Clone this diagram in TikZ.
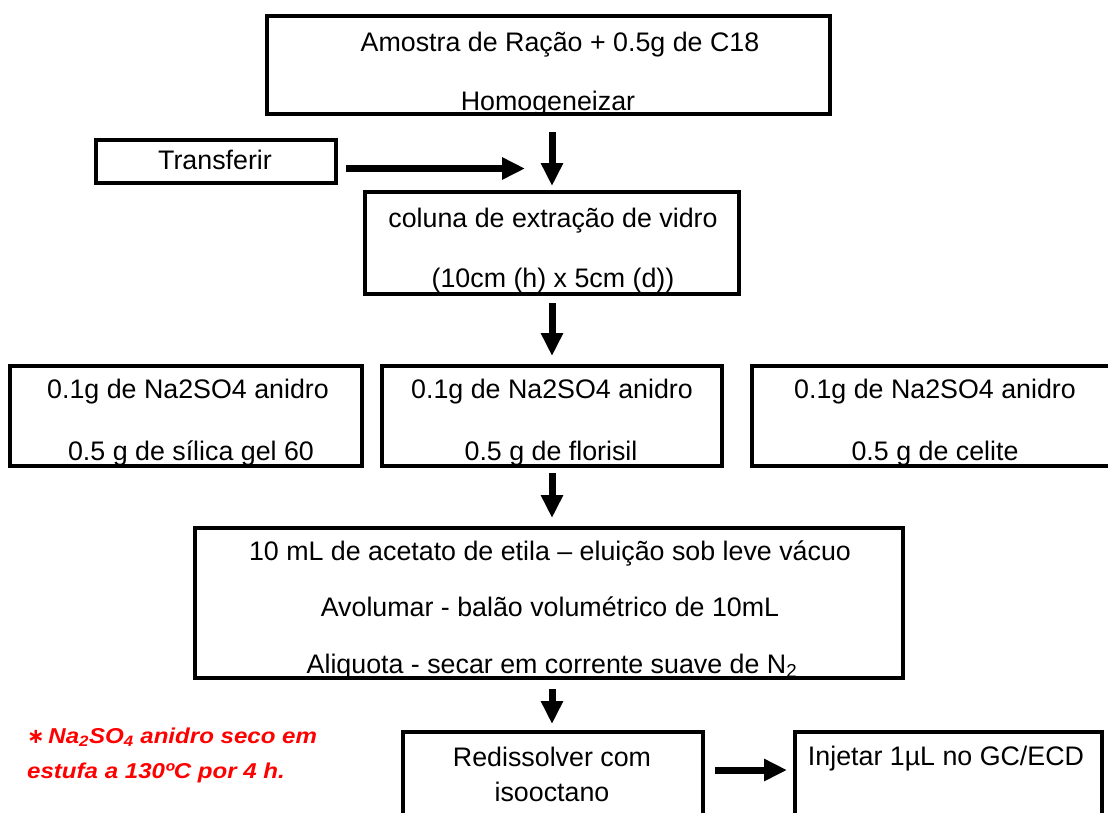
\documentclass[tikz,border=0pt]{standalone}
\usepackage{fontspec}
\setmainfont{Liberation Sans}
\newfontfamily\notefont[FakeStretch=1.12]{Liberation Sans}
\newfontfamily\djv{DejaVu Sans}
\usetikzlibrary{arrows.meta,calc}
\definecolor{notered}{RGB}{255,0,0}
\begin{document}
\begin{tikzpicture}[x=1pt,y=-1pt,
  box/.style={draw, line width=4pt, fill=white, inner sep=0pt, outer sep=0pt},
  txt/.style={font=\fontsize{26.8}{30}\selectfont, inner sep=0pt, anchor=base},
  note/.style={font=\notefont\fontsize{21.5}{25}\selectfont\bfseries\itshape, text=notered, inner sep=0pt, anchor=base west},
  arr/.style={line width=7pt, -{Triangle[length=23pt,width=21pt]}},
]
\useasboundingbox (0,0) rectangle (1108,812);
\fill[white] (0,0) rectangle (1108,812);
\coordinate (ax) at (552,0);

% top box
\node[box, minimum width=563pt, minimum height=98pt] (b1) at (548.5,65) {};
\begin{scope}
\clip (b1.south west) rectangle (b1.north east);
\node[txt] (b1a) at (560,51) {Amostra de Ração + 0.5g de C18};
\node[txt] (b1b) at (548,110) {Homogeneizar};
\end{scope}

% transferir
\node[box, minimum width=240pt, minimum height=43pt] (tr) at (216,161.5) {};
\node[txt] (tra) at (215,169) {Transferir};
\coordinate (trend) at (525,168.5);

% column box
\node[box, minimum width=374pt, minimum height=102pt] (b2) at (552,243) {};
\begin{scope}
\clip (b2.south west) rectangle (b2.north east);
\node[txt] (b2a) at (553,227) {coluna de extração de vidro};
\node[txt] (b2b) at (553,287) {(10cm (h) x 5cm (d))};
\end{scope}

% three boxes
\node[box, minimum width=352pt, minimum height=99.5pt] (ba) at (186,415.75) {};
\node[box, minimum width=340pt, minimum height=99.5pt] (bb) at (552,415.75) {};
\node[box, minimum width=366pt, minimum height=99.5pt] (bc) at (935,415.75) {};
\begin{scope}
\clip (ba.south west) rectangle (ba.north east);
\node[txt] (baa) at (188,398) {0.1g de Na2SO4 anidro};
\node[txt] (bab) at (191,460) {0.5 g de sílica gel 60};
\end{scope}
\begin{scope}
\clip (bb.south west) rectangle (bb.north east);
\node[txt] (bba) at (552,398) {0.1g de Na2SO4 anidro};
\node[txt] (bbb) at (551,460) {0.5 g de florisil};
\end{scope}
\begin{scope}
\clip (bc.south west) rectangle (bc.north east);
\node[txt] (bca) at (935,398) {0.1g de Na2SO4 anidro};
\node[txt] (bcb) at (935,460) {0.5 g de celite};
\end{scope}

% elution box
\node[box, minimum width=708pt, minimum height=150.5pt] (b4) at (549,602.75) {};
\begin{scope}
\clip (b4.south west) rectangle (b4.north east);
\node[txt] (b4a) at (550,560) {10 mL de acetato de etila – eluição sob leve vácuo};
\node[txt] (b4b) at (550,616) {Avolumar - balão volumétrico de 10mL};
\node[txt] (b4c) at (552,673) {Aliquota - secar em corrente suave de N\textsubscript{2}};
\end{scope}

% bottom boxes
\node[box, minimum width=300pt, minimum height=118pt] (b5) at (553,791) {};
\node[txt] (b5a) at (552,766) {Redissolver com};
\node[txt] (b5b) at (552,801) {isooctano};
\node[box, minimum width=307pt, minimum height=118pt] (b6) at (948.5,791) {};
\node[txt] (b6a) at (946,765) {Injetar 1µL no GC/ECD};

% note
\node[note] (n1) at (27,743) {{\djv\bfseries\fontsize{21}{23}\selectfont ∗}\,Na\textsubscript{2}SO\textsubscript{4} anidro seco em};
\node[note] (n2) at (27,778) {estufa a 130ºC por 4 h.};

% arrows
\draw[arr] ($(b1.south -| ax)+(0,18)$) -- ($(b2.north -| ax)+(0,-6)$);
\draw[arr] ($(tr.east |- trend)+(10,0)$) -- (trend);
\draw[arr] ($(b2.south -| ax)+(0,9)$) -- ($(bb.north -| ax)+(0,-10)$);
\draw[arr] ($(bb.south -| ax)+(0,7.5)$) -- ($(b4.north -| ax)+(0,-9.5)$);
\draw[arr] ($(b4.south -| ax)+(0,11)$) -- ($(b5.north -| ax)+(0,-8)$);
\coordinate (ay) at (0,770);
\draw[arr] ($(b5.east |- ay)+(12,0)$) -- ($(b6.west |- ay)+(-8,0)$);
\end{tikzpicture}
\end{document}
